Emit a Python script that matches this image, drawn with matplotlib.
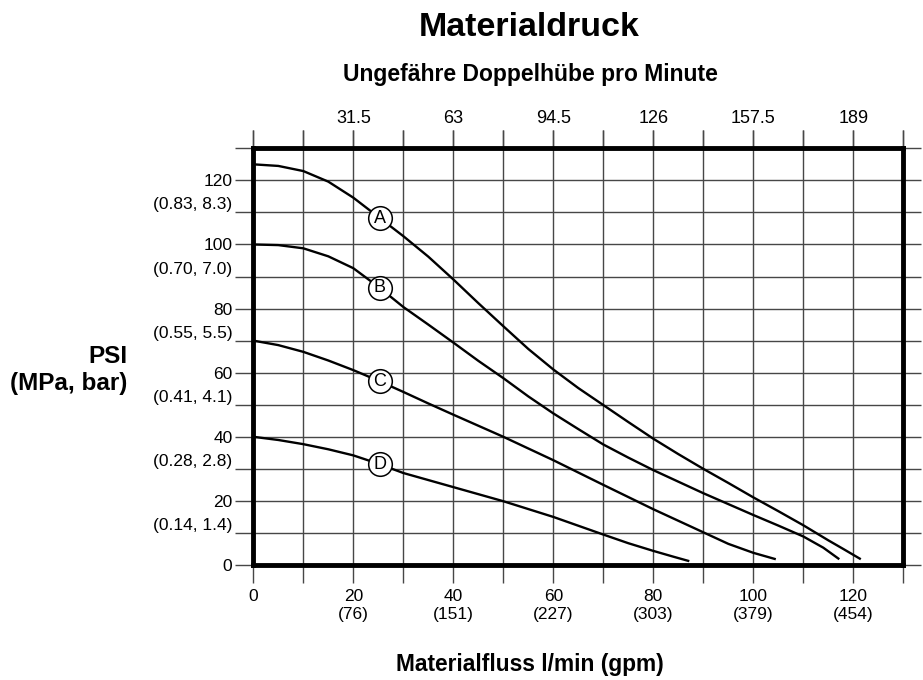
import numpy as np
import matplotlib.pyplot as plt

plt.rcParams['font.family'] = ['Liberation Sans', 'DejaVu Sans']

# Materialfluss (l/min) vs. Materialdruck (psi)
flow_a = [0, 5, 10, 15, 20, 25, 30, 35, 40, 45, 50, 55, 60, 65, 70, 75, 80, 85, 90, 95, 100, 105, 110, 115, 118, 121.5]
psi_a = [125, 124.5, 122.9, 119.6, 114.6, 108.6, 102.6, 96.2, 89.1, 81.7, 74.5, 67.4, 61.0, 55.2, 49.9, 44.6, 39.4, 34.6, 30.0, 25.6, 21.1, 16.8, 12.4, 7.7, 5.0, 1.8]

flow_b = [0, 5, 10, 15, 20, 25, 30, 35, 40, 45, 50, 55, 60, 65, 70, 75, 80, 85, 90, 95, 100, 105, 110, 114, 117.2]
psi_b = [100, 99.8, 98.8, 96.3, 92.6, 86.8, 80.5, 75.0, 69.4, 63.7, 58.3, 52.6, 47.3, 42.4, 37.6, 33.5, 29.6, 26.0, 22.4, 19.0, 15.6, 12.3, 8.9, 5.4, 1.8]

flow_c = [0, 5, 10, 15, 20, 25, 30, 35, 40, 50, 60, 70, 80, 90, 95, 100, 104.5]
psi_c = [70, 68.6, 66.5, 63.8, 60.8, 57.5, 54.0, 50.4, 46.9, 40.0, 32.7, 25.0, 17.4, 10.2, 6.6, 3.8, 1.8]

flow_d = [0, 5, 10, 15, 20, 25, 30, 40, 50, 60, 70, 75, 80, 84, 87.2]
psi_d = [40, 39.0, 37.7, 36.1, 34.2, 31.6, 28.7, 24.3, 19.9, 15.0, 9.5, 6.8, 4.4, 2.6, 1.2]

curve_names = ['A', 'B', 'C', 'D']
label_flow = 25.3

flow_ticks = [0, 20, 40, 60, 80, 100, 120]
flow_labels = ['0', '20\n(76)', '40\n(151)', '60\n(227)', '80\n(303)', '100\n(379)', '120\n(454)']
cycle_labels = ['31.5', '63', '94.5', '126', '157.5', '189']

psi_ticks = [0, 20, 40, 60, 80, 100, 120]
bar_ticks = [10, 30, 50, 70, 90, 110]
bar_labels = ['(0.14, 1.4)', '(0.28, 2.8)', '(0.41, 4.1)', '(0.55, 5.5)', '(0.70, 7.0)', '(0.83, 8.3)']

fig = plt.figure(figsize=(9.23, 6.80), dpi=100)
ax = fig.add_axes([253.3 / 923, 1 - 565 / 680, 650 / 923, (565 - 148.3) / 680])

ax.set_xlim(0, 130)
ax.set_ylim(0, 130)

grid_col = '0.28'
ax.set_xticks(np.arange(0, 131, 10))
ax.set_yticks(np.arange(0, 131, 10))
ax.grid(True, color=grid_col, lw=1.0)

# bottom labels: l/min and (gpm)
xlab = ['' for _ in ax.get_xticks()]
for t, l in zip(flow_ticks, flow_labels):
    xlab[t // 10] = l
ax.set_xticklabels(xlab, fontsize=12.5, linespacing=1.3)

# left labels: psi and (MPa, bar)
ylab = ['' for _ in ax.get_yticks()]
for t in psi_ticks:
    ylab[t // 10] = str(t)
for t, l in zip(bar_ticks, bar_labels):
    ylab[t // 10] = l
ax.set_yticklabels(ylab, fontsize=12.5)
for lbl in ax.get_yticklabels():
    if lbl.get_text().startswith('('):
        lbl.set_va('bottom')

ax.tick_params(axis='both', direction='out', length=13, width=1.0, color=grid_col,
               pad=2, top=True, right=True)
ax.tick_params(axis='x', pad=4)

# top axis: Doppelhuebe pro Minute
top = ax.secondary_xaxis('top')
top.set_xticks(np.arange(0, 131, 10))
tlab = ['' for _ in range(14)]
for i, l in enumerate(cycle_labels):
    tlab[(i + 1) * 2] = l
top.set_xticklabels(tlab, fontsize=13)
top.tick_params(direction='out', length=13, width=1.0, color=grid_col, pad=2)
top.spines['top'].set_visible(False)

for s in ax.spines.values():
    s.set_linewidth(3.5)
    s.set_color('black')
    s.set_zorder(5)

for name, fx, py in zip(curve_names, [flow_a, flow_b, flow_c, flow_d], [psi_a, psi_b, psi_c, psi_d]):
    ax.plot(fx, py, color='black', lw=1.7, solid_capstyle='butt', solid_joinstyle='round', zorder=3)
    ly = np.interp(label_flow, fx, py)
    ax.plot(label_flow, ly, 'o', ms=17, mfc='white', mec='black', mew=1.1, zorder=4)
    ax.text(label_flow, ly, name, ha='center', va='center', fontsize=13, zorder=5)

fig.text(529 / 923, 1 - 28 / 680, 'Materialdruck', ha='center', va='center',
         fontsize=24.5, fontweight='bold')
fig.text(530 / 923, 1 - 75 / 680, 'Ungefähre Doppelhübe pro Minute', ha='center', va='center',
         fontsize=16.5, fontweight='bold')
fig.text(530 / 923, 1 - 664 / 680, 'Materialfluss l/min (gpm)', ha='center', va='center',
         fontsize=16.4, fontweight='bold')
fig.text(127 / 923, 1 - 370 / 680, 'PSI\n(MPa, bar)', ha='right', va='center',
         multialignment='right', fontsize=17.5, fontweight='bold', linespacing=1.25)

fig.savefig('out.png', dpi=100)
